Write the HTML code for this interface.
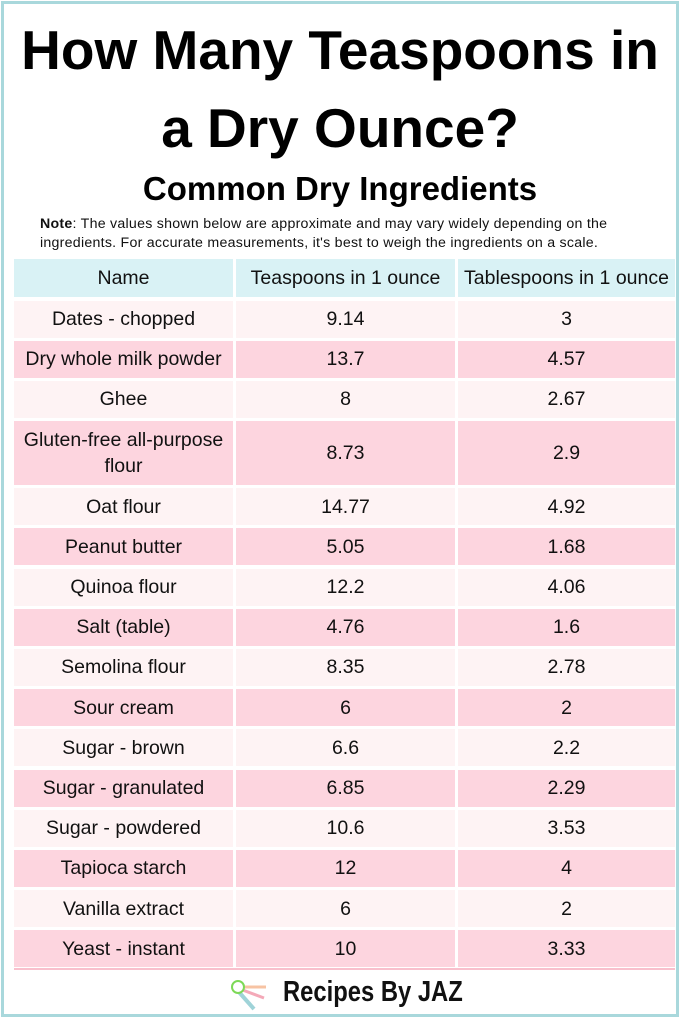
<!DOCTYPE html>
<html><head><meta charset="utf-8"><style>
body{margin:0;width:680px;height:1020px;background:#fff;font-family:"Liberation Sans",sans-serif;position:relative;overflow:hidden}
.frame{position:absolute;left:1px;top:1px;width:672px;height:1010px;border:3px solid #a9d8dc}
.t{position:absolute;left:0;width:680px;text-align:center;font-weight:bold;color:#000}
.c{position:absolute;display:flex;align-items:center;justify-content:center;text-align:center;font-size:19.5px;color:#111;line-height:26px}
</style></head><body>
<div class="frame"></div>
<div class="t" style="top:11px;font-size:55px;line-height:78px">How Many Teaspoons in<br>a Dry Ounce?</div>
<div class="t" style="top:170px;font-size:33px">Common Dry Ingredients</div>
<div style="position:absolute;left:40px;top:215px;width:632px;font-size:14.2px;letter-spacing:0.25px;line-height:19px;color:#111"><b>Note</b>: The values shown below are approximate and may vary widely depending on the ingredients. For accurate measurements, it's best to weigh the ingredients on a scale.</div>
<div id="tbl"></div>
<div style="position:absolute;left:228px;top:978px">
<svg width="44" height="36"><line x1="12" y1="9" x2="38" y2="9" stroke="#f7c3a3" stroke-width="3"/><line x1="12" y1="11" x2="36" y2="20" stroke="#f4a9b8" stroke-width="3"/><line x1="10" y1="13" x2="26" y2="31" stroke="#9fd3d8" stroke-width="4"/><circle cx="10" cy="9" r="6" fill="#fff" stroke="#7dd957" stroke-width="2"/></svg></div>
<div style="position:absolute;left:283px;top:976px;font-size:29px;font-weight:bold;color:#111;transform:scaleX(0.82);transform-origin:left top;white-space:nowrap">Recipes By JAZ</div>
<script>
const names=["Dates - chopped","Dry whole milk powder","Ghee","Gluten-free all-purpose flour","Oat flour","Peanut butter","Quinoa flour","Salt (table)","Semolina flour","Sour cream","Sugar - brown","Sugar - granulated","Sugar - powdered","Tapioca starch","Vanilla extract","Yeast - instant"];
const teaspoons=["9.14","13.7","8","8.73","14.77","5.05","12.2","4.76","8.35","6","6.6","6.85","10.6","12","6","10"];
const tablespoons=["3","4.57","2.67","2.9","4.92","1.68","4.06","1.6","2.78","2","2.2","2.29","3.53","4","2","3.33"];
const headers=["Name","Teaspoons in 1 ounce","Tablespoons in 1 ounce"];
const tbl=document.getElementById('tbl');
const cx=[14,236,458],cw=[219,219,217];
function cell(x,y,w,h,txt,bg,name){const d=document.createElement('div');d.className='c';
d.style.cssText=`left:${x}px;top:${y}px;width:${w}px;height:${h}px;background:${bg}`;
d.textContent=txt;


tbl.appendChild(d);return d;}
headers.forEach((h,i)=>cell(cx[i],259,cw[i],38,h,'#d9f2f5','header-cell'));
let y=300.5;
names.forEach((n,r)=>{const h=n.length>24?64:37.2;const bg=r%2?'#fdd5df':'#fef3f4';
const nc=cell(cx[0],y,cw[0],h,n,bg,'name-cell');
if(n.length>24){nc.style.padding='0 4px';nc.style.width=(cw[0]-8)+'px';}
cell(cx[1],y,cw[1],h,teaspoons[r],bg,'teaspoons-cell');
cell(cx[2],y,cw[2],h,tablespoons[r],bg,'tablespoons-cell');
y+=h+3;});
const b=document.createElement('div');b.style.cssText=`position:absolute;left:14px;top:${y-3}px;width:661px;height:2px;background:#f9c0cd`;


tbl.appendChild(b);
</script>
</body></html>
